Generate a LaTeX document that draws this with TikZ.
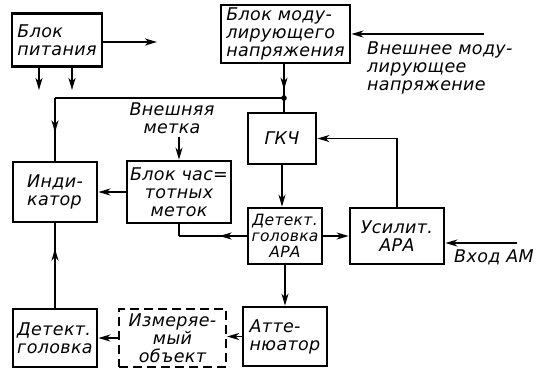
\documentclass[tikz,border=0pt]{standalone}
\usepackage{fontspec}
\setmainfont{DejaVu Sans}[LetterSpace=2]
\usetikzlibrary{arrows.meta,decorations.markings}
\newcommand\dlab{\fontsize{17.5}{18}\selectfont\itshape}
\newcommand\dlabs{\fontsize{15.5}{16}\selectfont\itshape}
\begin{document}
\begin{tikzpicture}[x=1pt,y=-1pt,
  blk/.style={draw, line width=2.8pt, inner sep=1pt, align=center, font=\dlab},
  dblk/.style={blk, line width=2.2pt, dash pattern=on 9pt off 5pt},
  lbl/.style={inner sep=0pt, font=\dlab},
  tip/.style={-{Stealth[length=12pt,width=7pt,inset=3.5pt]}},
  conn/.style={line width=1.8pt},
  midtip/.style={conn, postaction={decorate}, decoration={markings,
     mark=at position #1 with {\arrow{Stealth[length=12pt,width=7pt,inset=3.5pt]}}}}
]
\useasboundingbox (0,0) rectangle (545,370);
% blocks
\node[blk, align=left, minimum width=90pt, minimum height=53pt] (pit) at (57,40) {Блок\\питания};
\node[blk, align=left, minimum width=129pt, minimum height=58pt] (mod) at (285.5,34) {Блок моду-\\лирующего\\напряжения};
\node[blk, align=left, minimum width=84pt, minimum height=60pt] (ind) at (55,192) {Инди-\\катор};
\node[blk, minimum width=104pt, minimum height=62pt] (bcm) at (179,192) {Блок час=\\тотных\\меток};
\node[blk, minimum width=68pt, minimum height=51pt] (gkc) at (282,138.5) {ГКЧ};
\node[blk, font=\dlabs, inner sep=0pt, minimum width=74pt, minimum height=56pt] (det) at (285,236) {Детект.\\головка\\АРА};
\node[blk, minimum width=94pt, minimum height=56pt] (usil) at (397,236) {Усилит.\\АРА};
\node[blk, align=left, minimum width=84pt, minimum height=59pt] (att) at (285,336.5) {Атте-\\нюатор};
\node[dblk, minimum width=107pt, minimum height=58pt] (izm) at (172.5,338) {Измеряе-\\мый\\объект};
\node[blk, align=left, minimum width=84pt, minimum height=58pt] (dg) at (55,338) {Детект.\\головка};
% labels
\node[lbl, align=left, anchor=north west] (extmod) at (367,42) {Внешнее моду-\\лирующее\\напряжение};
\node[lbl, align=center] (metka) at (172,118) {Внешняя\\метка};
\node[lbl] (vhod) at (494,257) {Вход АМ};
% free ends
\coordinate (pr) at (157,42);
\coordinate (pd1) at (39,90);
\coordinate (pd2) at (72,90);
\coordinate (em) at (484,34);
\coordinate (am) at (517,243);
\coordinate (j) at (284,98);
% connectors
\draw[conn,tip] (pit.east |- pr) -- (pr);
\draw[conn,tip] (pit.south -| pd1) -- (pd1);
\draw[conn,tip] (pit.south -| pd2) -- (pd2);
\draw[conn,tip] (em) -- (em -| mod.east);
\draw[midtip=0.75] (mod.south -| j) -- (j);
\fill (j) circle (2.8pt);
\draw[conn] (j) -- (j |- gkc.north);
\draw[conn] (j) -- (j -| ind.north);
\draw[midtip=0.55] (j -| ind.north) -- (ind.north);
\draw[conn,tip] (bcm.south |- metka.south) ++(0,3) -- (bcm.north);
\draw[conn,tip] (bcm.west) -- (bcm.west -| ind.east);
\draw[midtip=0.4] (det.west) -- (det.west -| bcm.south);
\draw[conn] (det.west -| bcm.south) -- (bcm.south);
\draw[conn,tip] (gkc.south) -- (gkc.south |- det.north);
\draw[conn,tip] (det.east) -- (usil.west);
\draw[conn,tip] (usil.north) |- (gkc.east);
\draw[conn,tip] (am) -- (am -| usil.east);
\draw[conn,tip] (det.south) -- (det.south |- att.north);
\draw[conn,tip] (att.west) -- (att.west -| izm.east);
\draw[conn,tip] (izm.west) -- (izm.west -| dg.east);
\draw[midtip=0.7] (dg.north) -- (dg.north |- ind.south);
\end{tikzpicture}
\end{document}
